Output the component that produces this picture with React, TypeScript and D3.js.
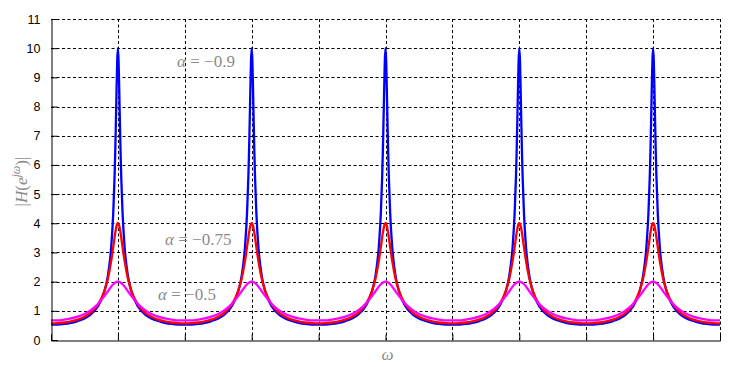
import { useEffect, useRef } from 'react';
import * as d3 from 'd3';

// omega axis in units of pi, peaks of the comb response
const peakCenters = [-0.8, -0.4, 0, 0.4, 0.8];
const halfPeriod = 0.2;
const xTicks = [-1, -0.8, -0.6, -0.4, -0.2, 0, 0.2, 0.4, 0.6, 0.8, 1];
const yTicks = [0, 1, 2, 3, 4, 5, 6, 7, 8, 9, 10, 11];

// offset from a peak, as fraction of half a period, and |H|
const offsets = [0, 0.01, 0.02, 0.03, 0.04, 0.05, 0.07, 0.1, 0.15, 0.2, 0.3, 0.4, 0.5, 0.6, 0.7, 0.8, 0.9, 1.0];
const alpha09 = [10, 9.58, 8.59, 7.46, 6.43, 5.58, 4.33, 3.19, 2.2, 1.68, 1.15, 0.89, 0.74, 0.65, 0.59, 0.55, 0.53, 0.53];
const alpha075 = [4.0, 3.98, 3.91, 3.8, 3.67, 3.51, 3.18, 2.71, 2.1, 1.69, 1.21, 0.95, 0.8, 0.7, 0.64, 0.6, 0.58, 0.57];
const alpha05 = [2.0, 2.0, 1.99, 1.98, 1.97, 1.95, 1.91, 1.83, 1.67, 1.51, 1.23, 1.03, 0.89, 0.8, 0.74, 0.7, 0.67, 0.67];

const series = [
  { name: 'a09', values: alpha09, color: '#0000ff' },
  { name: 'a075', values: alpha075, color: '#ff0000' },
  { name: 'a05', values: alpha05, color: '#ff00ff' },
];

function buildPoints(values: number[]) {
  const pts: [number, number][] = [];
  peakCenters.forEach(c => {
    offsets.forEach((o, i) => {
      pts.push([c - o * halfPeriod, values[i]]);
      if (o > 0) pts.push([c + o * halfPeriod, values[i]]);
    });
  });
  pts.sort((a, b) => a[0] - b[0]);
  return pts.filter((p, i) => i === 0 || Math.abs(p[0] - pts[i - 1][0]) > 1e-9);
}

export default function App() {
  const svgRef = useRef<SVGSVGElement>(null);
  const width = 748;
  const height = 367;

  useEffect(() => {
    document.body.style.margin = '0';
    if (!svgRef.current) return;
    const svg = d3.select(svgRef.current);
    svg.selectAll('*').remove();

    const margin = { top: 19, right: 28, bottom: 27, left: 51 };
    const innerWidth = width - margin.left - margin.right;
    const innerHeight = height - margin.top - margin.bottom;

    const g = svg.append('g').attr('transform', `translate(${margin.left},${margin.top})`);

    const x = d3.scaleLinear().domain([-1, 1]).range([0, innerWidth]);
    const y = d3.scaleLinear().domain([0, 11]).range([innerHeight, 0]);

    // grid
    g.append('g')
      .selectAll('line')
      .data(xTicks.slice(1))
      .enter().append('line')
      .attr('x1', d => Math.round(x(d)) + 0.5)
      .attr('x2', d => Math.round(x(d)) + 0.5)
      .attr('y1', 0)
      .attr('y2', innerHeight)
      .attr('stroke', '#000')
      .attr('stroke-dasharray', '3,2.5');

    g.append('g')
      .selectAll('line')
      .data(yTicks.slice(1))
      .enter().append('line')
      .attr('x1', 0)
      .attr('x2', innerWidth)
      .attr('y1', d => Math.round(y(d)) + 0.5)
      .attr('y2', d => Math.round(y(d)) + 0.5)
      .attr('stroke', '#000')
      .attr('stroke-dasharray', '3,2.5');

    // curves
    const line = d3.line<[number, number]>()
      .x(d => x(d[0]))
      .y(d => y(d[1]))
      .curve(d3.curveMonotoneX);

    series.forEach(s => {
      g.append('path')
        .datum(buildPoints(s.values))
        .attr('d', line)
        .attr('fill', 'none')
        .attr('stroke', s.color)
        .attr('stroke-width', 2.3);
    });

    // axes
    const yAxis = g.append('g')
      .attr('transform', 'translate(0.5,0)')
      .call(d3.axisLeft(y).tickValues(yTicks).tickSize(-6).tickPadding(11).tickFormat(d3.format('d')));
    yAxis.select('.domain').attr('stroke', '#000');
    yAxis.selectAll('.tick line').attr('stroke', '#000');
    yAxis.selectAll('text')
      .style('font-size', '12.5px')
      .style('font-family', 'Liberation Sans, Arial, sans-serif')
      .style('fill', '#000');

    const xAxis = g.append('g')
      .attr('transform', `translate(0,${innerHeight + 0.5})`)
      .call(d3.axisBottom(x).tickValues(xTicks).tickSize(-6).tickFormat(() => ''));
    xAxis.select('.domain').attr('stroke', '#000');
    xAxis.selectAll('.tick line').attr('stroke', '#000');

    // math labels
    const mathFont = 'Liberation Serif, DejaVu Serif, serif';
    const labels = [
      { val: '0.9', xv: -0.623, yv: 9.35 },
      { val: '0.75', xv: -0.659, yv: 3.25 },
      { val: '0.5', xv: -0.68, yv: 1.38 },
    ];
    labels.forEach(l => {
      const t = g.append('text')
        .attr('x', x(l.xv))
        .attr('y', y(l.yv))
        .style('font-family', mathFont)
        .style('font-size', '17px')
        .style('fill', '#8a8a8a');
      t.append('tspan').style('font-style', 'italic').text('α');
      t.append('tspan').text(` = −${l.val}`);
    });

    svg.append('text')
      .attr('x', margin.left + x(0.0) - 4)
      .attr('y', 360)
      .style('font-family', mathFont)
      .style('font-size', '17px')
      .style('font-style', 'italic')
      .style('fill', '#8a8a8a')
      .text('ω');

    const yl = svg.append('text')
      .attr('transform', `translate(27,${margin.top + innerHeight / 2 + 2}) rotate(-90)`)
      .attr('text-anchor', 'middle')
      .style('font-family', mathFont)
      .style('font-size', '17px')
      .style('fill', '#8a8a8a');
    yl.append('tspan').text('|');
    yl.append('tspan').style('font-style', 'italic').text('H');
    yl.append('tspan').text('(');
    yl.append('tspan').style('font-style', 'italic').text('e');
    yl.append('tspan').attr('dy', -7).style('font-size', '12px').style('font-style', 'italic').text('jω');
    yl.append('tspan').attr('dy', 7).text(')|');
  }, []);

  return (
    <svg ref={svgRef} width={width} height={height} style={{ display: 'block', background: '#fff' }} />
  );
}
